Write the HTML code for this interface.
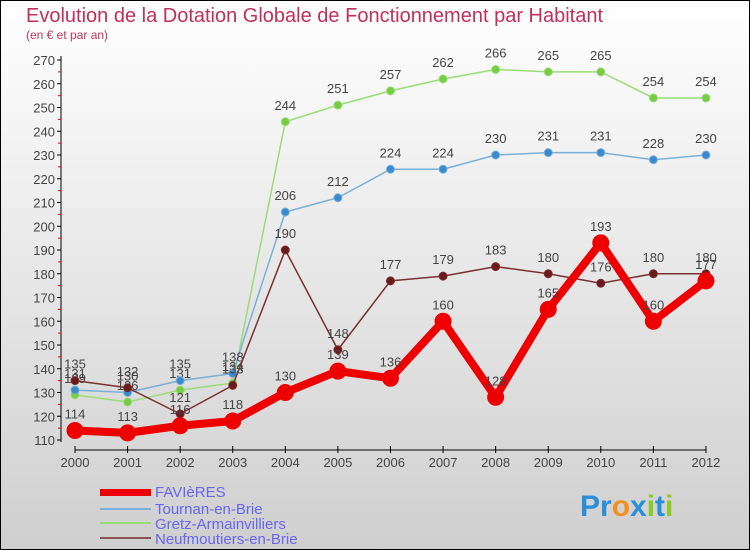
<!DOCTYPE html>
<html><head><meta charset="utf-8"><style>
body{margin:0}
#c{width:750px;height:550px;position:relative;overflow:hidden;font-family:"Liberation Sans",sans-serif}
</style></head><body>
<div id="c">
<svg id="s" width="750" height="550" xmlns="http://www.w3.org/2000/svg">
<defs><linearGradient id="bg" x1="0" y1="0" x2="0" y2="1"><stop offset="0" stop-color="#ffffff"/><stop offset="1" stop-color="#cfcfcf"/></linearGradient></defs>
<rect x="0.5" y="0.5" width="749" height="549" fill="url(#bg)" stroke="#000"/>
<text x="26" y="22" font-size="20" fill="#c0305a">Evolution de la Dotation Globale de Fonctionnement par Habitant</text>
<text x="26" y="39" font-size="12" fill="#c0305a">(en € et par an)</text>
<g id="axes"></g><g id="series"></g>
<g>
<rect x="100" y="489" width="51" height="7" fill="#e00"/>
<text x="155" y="497" font-size="15" fill="#6666ee">FAVIèRES</text>
<rect x="100" y="508" width="51" height="2" fill="#7ab0d8"/>
<text x="155" y="514" font-size="15" fill="#6666ee">Tournan-en-Brie</text>
<rect x="100" y="522" width="51" height="2" fill="#99dd77"/>
<text x="155" y="529" font-size="15" fill="#6666ee">Gretz-Armainvilliers</text>
<rect x="100" y="537" width="51" height="2" fill="#8b5555"/>
<text x="155" y="544" font-size="15" fill="#6666ee">Neufmoutiers-en-Brie</text>
</g>
<g font-size="30" font-weight="bold">
<text x="580" y="516"><tspan fill="#2a8fd8">Pr</tspan><tspan fill="#f09020">o</tspan><tspan fill="#2a8fd8">x</tspan><tspan fill="#88cc22">i</tspan><tspan fill="#2a8fd8">t</tspan><tspan fill="#88cc22">i</tspan></text>
</g>
</svg>
</div>
<script>
const years=[2000,2001,2002,2003,2004,2005,2006,2007,2008,2009,2010,2011,2012];
const favieres=[114,113,116,118,130,139,136,160,128,165,193,160,177];
const tournan=[131,130,135,138,206,212,224,224,230,231,231,228,230];
const gretz=[129,126,131,134,244,251,257,262,266,265,265,254,254];
const neuf=[135,132,121,133,190,148,177,179,183,180,176,180,180];
const yTicks=[110,120,130,140,150,160,170,180,190,200,210,220,230,240,250,260,270];
const NS="http://www.w3.org/2000/svg";
const x0=75,dx=52.58,yMin=110,yMax=270,yTop=60,yBot=440;
const X=i=>x0+i*dx;
const Y=v=>yBot-(v-yMin)*(yBot-yTop)/(yMax-yMin);
function mk(t,a,p){const e=document.createElementNS(NS,t);for(const k in a)e.setAttribute(k,a[k]);p.appendChild(e);return e;}
const ax=document.getElementById('axes');
let l=mk('line',{x1:61,y1:56,x2:61,y2:442,stroke:'#000'},ax);


yTicks.forEach(v=>{
 mk('line',{x1:57,y1:Y(v),x2:61,y2:Y(v),stroke:'#000'},ax);
 if(v<270)mk('line',{x1:58,y1:Y(v+5),x2:61,y2:Y(v+5),stroke:'#e00'},ax);
 const t=mk('text',{x:55,y:Y(v)+5,'font-size':13,'text-anchor':'end',fill:'#444'},ax);t.textContent=v;
 
 
});
l=mk('line',{x1:X(0),y1:450,x2:X(12),y2:450,stroke:'#000'},ax);


years.forEach((y,i)=>{
 mk('line',{x1:X(i),y1:446,x2:X(i),y2:453,stroke:'#000'},ax);
 const t=mk('text',{x:X(i),y:467,'font-size':13,'text-anchor':'middle',fill:'#444'},ax);t.textContent=y;
 
 
});
const sg=document.getElementById('series');
function series(vals,color,dot,w,r,name){
 const g=mk('g',{},sg);
 
 
 const p=mk('polyline',{points:vals.map((v,i)=>X(i)+','+Y(v)).join(' '),fill:'none',stroke:color,'stroke-width':w,'stroke-linejoin':'round'},g);
 
 
 vals.forEach((v,i)=>{
  const c=mk('circle',{cx:X(i),cy:Y(v),r:r,fill:dot,stroke:color,'stroke-width':1},g);
  
  
  const t=mk('text',{x:X(i),y:Y(v)-12,'font-size':13,'text-anchor':'middle',fill:'#444'},g);t.textContent=v;
  
  
 });
}
series(gretz,'#99dd77','#77cc44',1.5,4,'gretz-series');
series(tournan,'#7ab0d8','#3a8ad0',1.5,4,'tournan-series');
series(neuf,'#7a3030','#6a1a1a',1.5,4,'neufmoutiers-series');
series(favieres,'#ee0000','#ee0000',8,8,'favieres-series');
</script>
</body></html>
